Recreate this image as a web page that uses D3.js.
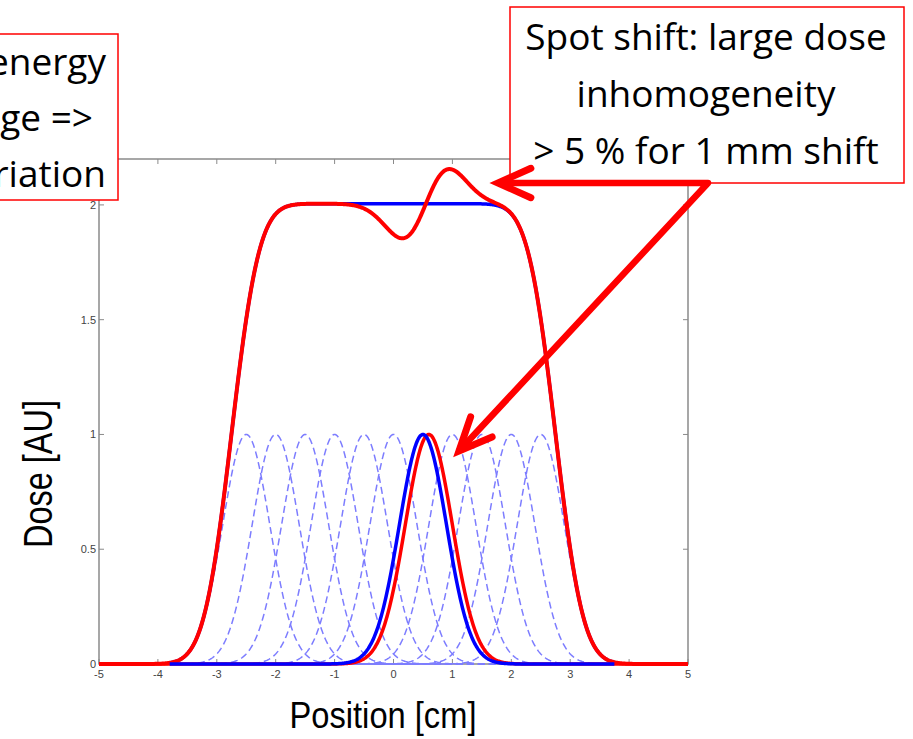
<!DOCTYPE html>
<html>
<head>
<meta charset="utf-8">
<script src="https://cdn.jsdelivr.net/npm/d3@7"></script>
<style>
  body { margin: 0; background: #fff; }
  svg { display: block; }
</style>
</head>
<body>
<div id="chart"></div>
<script>
// spot positions [cm] and beam width
var spotCenters = [-2.5, -2, -1.5, -1, -0.5, 0, 0.5, 1, 1.5, 2, 2.5];
var spotSigma = 0.4;
var spotPeak = 1;
var plannedSpot = 0.5;
var shiftedSpot = 0.6;   // 1 mm shift
var blueRange = [-3.8, 3.75];
var xDomain = [-5, 5];
var yDomain = [0, 2.2];
var xTicks = [-5, -4, -3, -2, -1, 0, 1, 2, 3, 4, 5];
var yTicks = [0, 0.5, 1, 1.5, 2];
var rightNote = ["Spot shift: large dose", "inhomogeneity", "> 5 % for 1 mm shift"];
var leftNote = ["energy", "ge =>", "riation"];

var width = 913, height = 739;
var svg = d3.select('#chart').append('svg').attr('width', width).attr('height', height);

var x = d3.scaleLinear().domain(xDomain).range([99, 688]);
var y = d3.scaleLinear().domain(yDomain).range([664, 159]);

function spot(c) {
    return function (p) { return spotPeak * Math.exp(-(p - c) * (p - c) / (2 * spotSigma * spotSigma)); };
}
function samples(a, b) {
    return d3.range(Math.round(a * 100), Math.round(b * 100) + 1).map(function (i) { return i / 100; });
}
function total(centers) {
    return function (p) { return d3.sum(centers, function (c) { return spot(c)(p); }); };
}
var shiftedCenters = spotCenters.map(function (c) { return c === plannedSpot ? shiftedSpot : c; });

var line = function (f) {
    return d3.line().x(function (p) { return x(p); }).y(function (p) { return y(f(p)); });
};

// frame
svg.append('rect').attr('x', x(xDomain[0])).attr('y', y(yDomain[1]))
    .attr('width', x(xDomain[1]) - x(xDomain[0])).attr('height', y(yDomain[0]) - y(yDomain[1]))
    .attr('fill', 'none').attr('stroke', '#8a8a8a').attr('stroke-width', 1.5);

var tickCol = '#8a8a8a';
xTicks.forEach(function (t) {
    svg.append('line').attr('x1', x(t)).attr('x2', x(t)).attr('y1', y(0)).attr('y2', y(0) - 5).attr('stroke', tickCol);
    svg.append('line').attr('x1', x(t)).attr('x2', x(t)).attr('y1', y(yDomain[1])).attr('y2', y(yDomain[1]) + 5).attr('stroke', tickCol);
    svg.append('text').attr('x', x(t)).attr('y', 678).attr('text-anchor', 'middle')
        .attr('font-family', 'Liberation Sans, Arial, sans-serif').attr('font-size', 11).attr('fill', '#444')
        .text(t);
});
yTicks.forEach(function (t) {
    svg.append('line').attr('x1', x(-5)).attr('x2', x(-5) + 5).attr('y1', y(t)).attr('y2', y(t)).attr('stroke', tickCol);
    svg.append('line').attr('x1', x(5)).attr('x2', x(5) - 5).attr('y1', y(t)).attr('y2', y(t)).attr('stroke', tickCol);
    svg.append('text').attr('x', 96).attr('y', y(t) + 4).attr('text-anchor', 'end')
        .attr('font-family', 'Liberation Sans, Arial, sans-serif').attr('font-size', 11).attr('fill', '#444')
        .text(t);
});

// individual spots, dashed
spotCenters.forEach(function (c) {
    svg.append('path').datum(samples(xDomain[0], xDomain[1])).attr('d', line(spot(c)))
        .attr('fill', 'none').attr('stroke', '#7d7dff').attr('stroke-width', 1.5)
        .attr('stroke-dasharray', '7,4');
});

// planned sum (blue) and shifted sum (red)
svg.append('path').datum(samples(blueRange[0], blueRange[1])).attr('d', line(total(spotCenters)))
    .attr('fill', 'none').attr('stroke', '#0000ff').attr('stroke-width', 3.5);
svg.append('path').datum(samples(xDomain[0], xDomain[1])).attr('d', line(total(shiftedCenters)))
    .attr('fill', 'none').attr('stroke', '#ff0000').attr('stroke-width', 4);
svg.append('path').datum(samples(xDomain[0], xDomain[1])).attr('d', line(spot(shiftedSpot)))
    .attr('fill', 'none').attr('stroke', '#ff0000').attr('stroke-width', 3.5);
svg.append('path').datum(samples(blueRange[0], blueRange[1])).attr('d', line(spot(plannedSpot)))
    .attr('fill', 'none').attr('stroke', '#0000ff').attr('stroke-width', 3.5);

// axis titles
svg.append('text').attr('x', 383).attr('y', 728).attr('text-anchor', 'middle')
    .attr('font-family', 'Liberation Sans, Arial, sans-serif').attr('font-size', 36)
    .attr('textLength', 187).attr('lengthAdjust', 'spacingAndGlyphs').text('Position [cm]');
svg.append('text').attr('transform', 'translate(52,474) rotate(-90)').attr('text-anchor', 'middle')
    .attr('font-family', 'Liberation Sans, Arial, sans-serif').attr('font-size', 40)
    .attr('textLength', 148).attr('lengthAdjust', 'spacingAndGlyphs').text('Dose [AU]');

// note boxes
svg.append('rect').attr('x', -2).attr('y', 34).attr('width', 120).attr('height', 166)
    .attr('fill', '#fff').attr('stroke', '#ff0000').attr('stroke-width', 1.5);
var leftEnds = [106, 93, 106];
leftNote.forEach(function (s, i) {
    svg.append('text').attr('x', leftEnds[i]).attr('y', 75 + i * 56).attr('text-anchor', 'end')
        .attr('font-family', 'Open Sans, sans-serif').attr('font-size', 37).attr('fill', '#000').text(s);
});

svg.append('rect').attr('x', 510).attr('y', 7).attr('width', 394).attr('height', 176)
    .attr('fill', '#fff').attr('stroke', '#ff0000').attr('stroke-width', 1.5);
rightNote.forEach(function (s, i) {
    svg.append('text').attr('x', 706).attr('y', 50 + i * 57).attr('text-anchor', 'middle')
        .attr('font-family', 'Open Sans, sans-serif').attr('font-size', 37).attr('fill', '#000').text(s);
});

// arrows
function arrowHead(tip, from) {
    var a = Math.atan2(from[1] - tip[1], from[0] - tip[0]), len = 36, spread = 0.42;
    var p1 = [tip[0] + len * Math.cos(a + spread), tip[1] + len * Math.sin(a + spread)];
    var p2 = [tip[0] + len * Math.cos(a - spread), tip[1] + len * Math.sin(a - spread)];
    svg.append('path').attr('d', 'M' + p1 + 'L' + tip + 'L' + p2)
        .attr('fill', 'none').attr('stroke', '#ff0000').attr('stroke-width', 7)
        .attr('stroke-linecap', 'round').attr('stroke-linejoin', 'miter');
}
var corner = [708, 183], tip1 = [498, 183], tip2 = [459, 451];
svg.append('path').attr('d', 'M' + tip1 + 'L' + corner + 'L' + tip2)
    .attr('fill', 'none').attr('stroke', '#ff0000').attr('stroke-width', 6.5).attr('stroke-linejoin', 'round');
arrowHead(tip1, corner);
arrowHead(tip2, corner);
</script>
</body>
</html>
